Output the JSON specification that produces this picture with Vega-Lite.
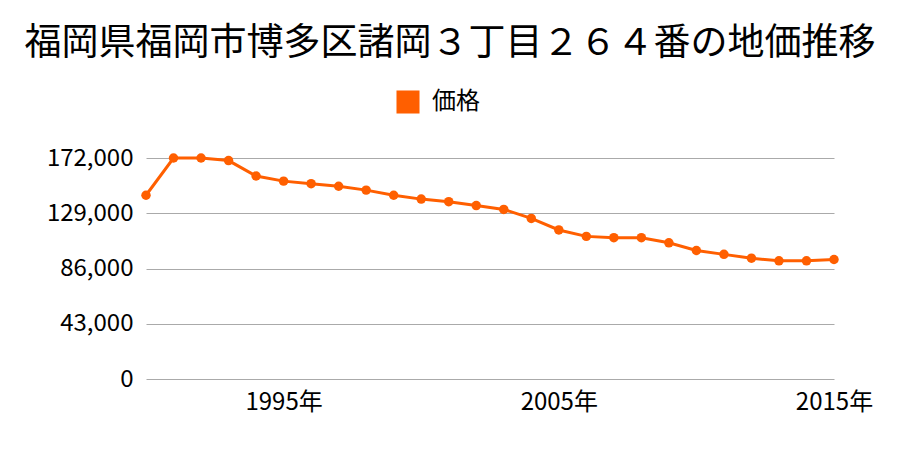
{
  "$schema": "https://vega.github.io/schema/vega-lite/v6.json",
  "width": 688,
  "height": 221,
  "autosize": {"type": "none"},
  "padding": {"left": 146, "top": 158, "right": 66, "bottom": 71},
  "config": {
    "font": "Noto Sans CJK JP",
    "view": {"stroke": null}
  },
  "title": {
    "text": "福岡県福岡市博多区諸岡３丁目２６４番の地価推移",
    "anchor": "middle",
    "frame": "group",
    "dx": -40,
    "dy": 32,
    "fontSize": 37,
    "fontWeight": "normal",
    "color": "#000000",
    "offset": 22,
    "baseline": "bottom"
  },
  "data": {
    "values": [
      {"year": 1990, "price": 143000, "series": "価格"},
      {"year": 1991, "price": 172000, "series": "価格"},
      {"year": 1992, "price": 172000, "series": "価格"},
      {"year": 1993, "price": 170000, "series": "価格"},
      {"year": 1994, "price": 158000, "series": "価格"},
      {"year": 1995, "price": 154000, "series": "価格"},
      {"year": 1996, "price": 152000, "series": "価格"},
      {"year": 1997, "price": 150000, "series": "価格"},
      {"year": 1998, "price": 147000, "series": "価格"},
      {"year": 1999, "price": 143000, "series": "価格"},
      {"year": 2000, "price": 140000, "series": "価格"},
      {"year": 2001, "price": 138000, "series": "価格"},
      {"year": 2002, "price": 135000, "series": "価格"},
      {"year": 2003, "price": 132000, "series": "価格"},
      {"year": 2004, "price": 125000, "series": "価格"},
      {"year": 2005, "price": 116000, "series": "価格"},
      {"year": 2006, "price": 111000, "series": "価格"},
      {"year": 2007, "price": 110000, "series": "価格"},
      {"year": 2008, "price": 110000, "series": "価格"},
      {"year": 2009, "price": 106000, "series": "価格"},
      {"year": 2010, "price": 100000, "series": "価格"},
      {"year": 2011, "price": 97000, "series": "価格"},
      {"year": 2012, "price": 94000, "series": "価格"},
      {"year": 2013, "price": 92000, "series": "価格"},
      {"year": 2014, "price": 92000, "series": "価格"},
      {"year": 2015, "price": 93000, "series": "価格"}
    ]
  },
  "encoding": {
    "x": {
      "field": "year",
      "type": "quantitative",
      "scale": {"domain": [1990, 2015], "nice": false, "zero": false},
      "axis": {
        "title": null,
        "values": [1995, 2005, 2015],
        "labelExpr": "datum.value + '年'",
        "grid": false,
        "domain": false,
        "ticks": false,
        "labelFontSize": 24,
        "labelColor": "#000000",
        "labelPadding": 11,
        "labelFlush": false
      }
    },
    "y": {
      "field": "price",
      "type": "quantitative",
      "scale": {"domain": [0, 172000], "nice": false},
      "axis": {
        "title": null,
        "values": [0, 43000, 86000, 129000, 172000],
        "format": ",.0f",
        "grid": true,
        "gridColor": "#aaaaaa",
        "gridWidth": 1,
        "domain": false,
        "ticks": false,
        "labelFontSize": 24,
        "labelColor": "#000000",
        "labelPadding": 13
      }
    },
    "color": {
      "field": "series",
      "type": "nominal",
      "scale": {"range": ["#ff5f00"]},
      "legend": {
        "title": null,
        "orient": "none",
        "legendX": 250,
        "legendY": -68,
        "symbolType": "square",
        "symbolSize": 530,
        "symbolStrokeWidth": 0,
        "labelFontSize": 24,
        "labelColor": "#000000",
        "labelOffset": 12
      }
    }
  },
  "layer": [
    {"mark": {"type": "line", "strokeWidth": 3}},
    {"mark": {"type": "point", "filled": true, "size": 90, "opacity": 1}}
  ]
}
